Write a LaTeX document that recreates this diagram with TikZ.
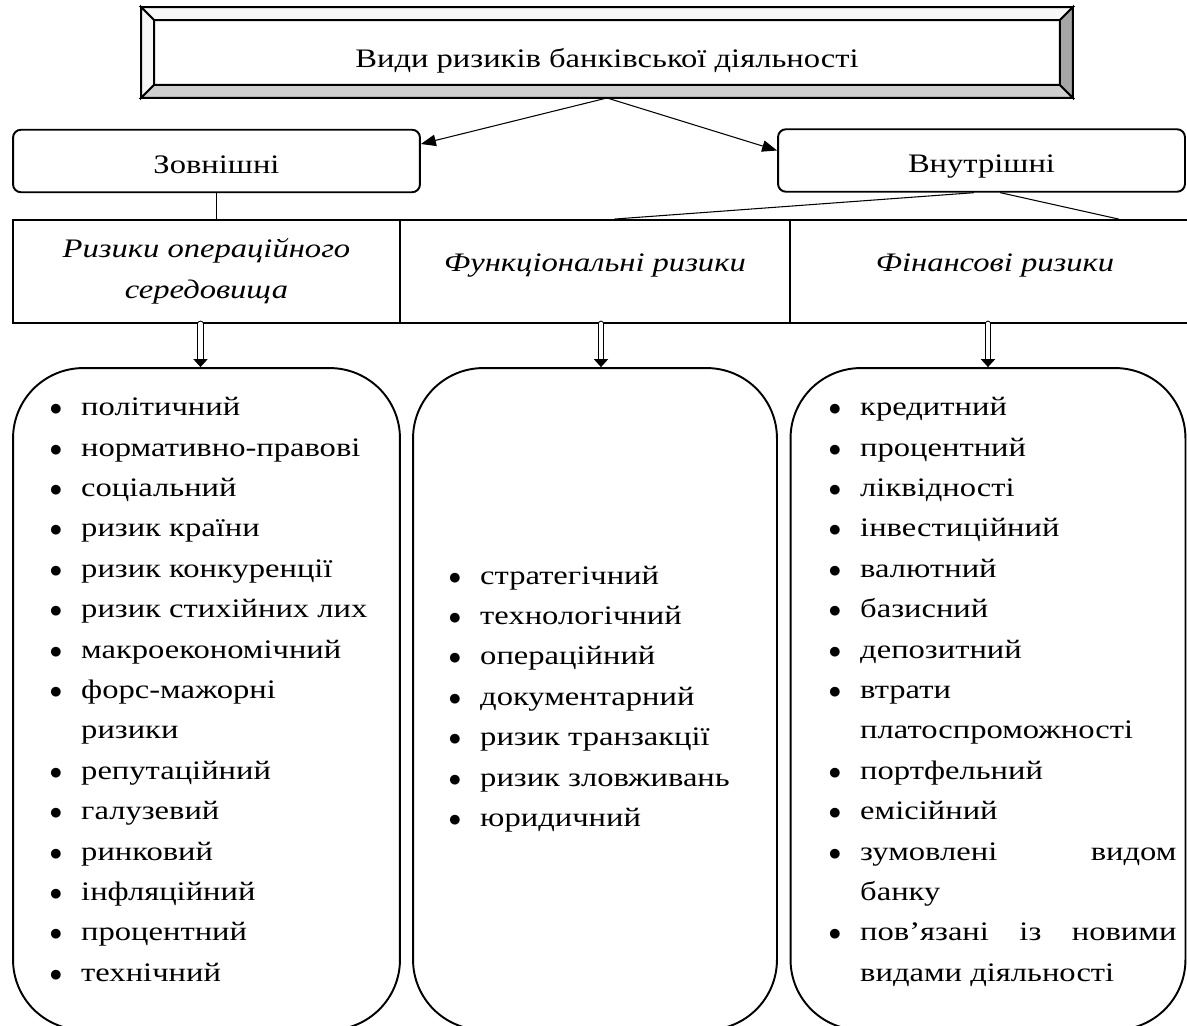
\documentclass[tikz,border=0pt]{standalone}
\usepackage{fontspec}
\setmainfont{Liberation Serif}[FakeStretch=1.22]
\usetikzlibrary{arrows.meta,calc}

% one line of a list: bullet, then text
\newcommand{\itm}[1]{\makebox[17pt][l]{\hspace*{-1pt}$\bullet$}#1}
\newcommand{\cnt}[1]{\hspace*{17pt}#1}

\begin{document}
\begin{tikzpicture}
	[x=0.02cm,y=-0.02cm,line cap=round,
	%Styles
	every node/.style={font=\fontsize{15.2}{23}\selectfont},
	titlebox/.style={draw,fill=white,line width=1.1pt,minimum width=18.6cm,minimum height=1.78cm,
		inner sep=0pt,text height=20pt},
	bevel/.style={draw,line width=1.1pt,line join=miter},
	kindbox/.style={draw,line width=1.1pt,rounded corners=4.5pt,minimum height=1.25cm,inner sep=0pt},
	headcell/.style={draw,line width=1.1pt,minimum height=2.06cm,inner sep=0pt,align=center,
		font=\fontsize{15.2}{23}\selectfont\itshape},
	oneline/.style={text height=10.5pt,text depth=10.5pt},
	listbox/.style={draw,line width=1.1pt,rounded corners=40pt,minimum height=13.24cm,inner sep=0pt},
	items/.style={align=left,inner sep=0pt},
	link/.style={-{Triangle[length=8.5pt,width=6.5pt]},line width=0.6pt},
	down/.style={double,double distance=2.6pt,line width=0.6pt,-{Triangle[length=4.5pt,width=8pt]}}
	]
	\useasboundingbox (0,0) rectangle (1187,1025);
	\clip (0,0) rectangle (1187,1025);

	%Title
	\node[titlebox] (title) at (607,52.5) {Види ризиків банківської діяльності};
	\filldraw[bevel,fill=gray!6] (title.north west) -- (title.north east)
		-- ([shift={(-13,13)}]title.north east) -- ([shift={(13,13)}]title.north west) -- cycle;
	\filldraw[bevel,fill=gray!6] (title.north west) -- ([shift={(13,13)}]title.north west)
		-- ([shift={(13,-13)}]title.south west) -- (title.south west) -- cycle;
	\filldraw[bevel,fill=gray!38] (title.south west) -- (title.south east)
		-- ([shift={(-13,-13)}]title.south east) -- ([shift={(13,-13)}]title.south west) -- cycle;
	\filldraw[bevel,fill=gray!70] (title.north east) -- (title.south east)
		-- ([shift={(-13,-13)}]title.south east) -- ([shift={(-13,13)}]title.north east) -- cycle;

	%Kinds
	\node[kindbox,minimum width=8.14cm,text height=13.7pt,text depth=0pt] (zovn) at (216.5,161) {Зовнішні};
	\node[kindbox,minimum width=8.14cm,text height=17.5pt] (vnut) at (981.5,160.5) {Внутрішні};

	%Table of groups
	\node[headcell,minimum width=7.74cm] (cell1) at (206.5,271.5) {Ризики операційного\\ середовища};
	\node[headcell,oneline,minimum width=7.8cm] (cell2) at (595,271.5) {Функціональні ризики};
	\node[headcell,oneline,minimum width=8.2cm] (cell3) at (995,271.5) {Фінансові ризики};

	%Boxes of risks
	\node[listbox,minimum width=7.74cm] (lbox) at (206.5,699) {};
	\node[listbox,minimum width=7.28cm] (mbox) at (595,699) {};
	\node[listbox,minimum width=7.9cm] (rbox) at (988,699) {};

	\node[items,anchor=north west] (llist) at (51,397) {\itm{політичний}\\ \itm{нормативно-правові}\\
		\itm{соціальний}\\ \itm{ризик країни}\\ \itm{ризик конкуренції}\\ \itm{ризик стихійних лих}\\
		\itm{макроекономічний}\\ \itm{форс-мажорні}\\ \cnt{ризики}\\ \itm{репутаційний}\\
		\itm{галузевий}\\ \itm{ринковий}\\ \itm{інфляційний}\\ \itm{процентний}\\ \itm{технічний}};
	\node[items,anchor=west] (mlist) at (450,699) {\itm{стратегічний}\\ \itm{технологічний}\\
		\itm{операційний}\\ \itm{документарний}\\ \itm{ризик транзакції}\\ \itm{ризик зловживань}\\
		\itm{юридичний}};
	\node[items,anchor=north west] (rlist) at (830,397) {\itm{кредитний}\\ \itm{процентний}\\
		\itm{ліквідності}\\ \itm{інвестиційний}\\ \itm{валютний}\\ \itm{базисний}\\ \itm{депозитний}\\
		\itm{втрати}\\ \cnt{платоспроможності}\\ \itm{портфельний}\\ \itm{емісійний}\\
		\itm{\hbox to 180pt{зумовлені\hfill видом}}\\ \cnt{банку}\\
		\itm{\hbox to 180pt{пов’язані\hfill із\hfill новими}}\\ \cnt{видами діяльності}};

	%Connectors
	\draw[link] (title.south) -- ([yshift=0.34cm]zovn.east);
	\draw[link] (title.south) -- ([yshift=0.2cm]vnut.west);
	\draw[line width=0.5pt] (zovn.south) -- (zovn.south |- cell1.north);
	\draw[line width=0.6pt] ([xshift=-0.16cm]vnut.south) -- ($(cell2.north west)!0.55!(cell2.north east)$);
	\draw[line width=0.6pt] ([xshift=0.38cm]vnut.south) -- ($(cell3.north west)!0.8!(cell3.north east)$);
	\draw[down] ([xshift=-0.12cm]cell1.south) -- ([xshift=-0.12cm]lbox.north);
	\draw[down] ([xshift=0.12cm]cell2.south) -- ([xshift=0.12cm]mbox.north);
	\draw[down] (cell3.south -| rbox.north) -- (rbox.north);
\end{tikzpicture}
\end{document}
